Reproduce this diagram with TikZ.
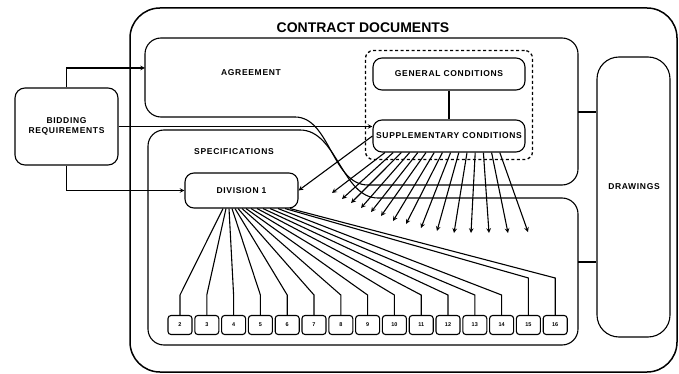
\documentclass[tikz,border=0pt]{standalone}
\usepackage{fontspec}
\setmainfont{Liberation Sans}
\newfontfamily\lblfont[LetterSpace=8]{Liberation Sans}
\usetikzlibrary{arrows,positioning,fit,calc}

\begin{document}
\begin{tikzpicture}[x = 1pt, y = -1pt,
    doc/.style = {draw, line width = 1.1pt, rounded corners = 9pt, inner sep = 0pt,
                  font = \lblfont\bfseries\fontsize{8.5}{10}\selectfont},
    divbox/.style = {draw, line width = 1.1pt, rounded corners = 3pt, inner sep = 0pt,
                     minimum width = 24pt, minimum height = 19pt,
                     font = \bfseries\fontsize{5.5}{6}\selectfont},
    lbl/.style = {font = \lblfont\bfseries\fontsize{8.5}{10}\selectfont},
    link/.style = {line width = 1.1pt},
    arr/.style = {->, >=stealth, line width = 1.1pt}]
    \useasboundingbox (0,0) rectangle (679,374);
    % outer frame
    \draw[line width = 1.5pt, rounded corners = 30pt] (130,8) rectangle (677,372);
    \node[font = \bfseries\fontsize{14}{16}\selectfont] (title) at (363,28) {CONTRACT DOCUMENTS};
    % agreement and specifications
    \draw[link, rounded corners = 16pt] (368,185) -- (578,185) -- (578,38) -- (145,38) -- (145,117) -- (295,117);
    \draw[link] (295,117) .. controls (330,117) and (332,185) .. (368,185);
    \draw[link, rounded corners = 16pt] (378,198) -- (578,198) -- (578,345) -- (148,345) -- (148,130) -- (300,130);
    \draw[link] (300,130) .. controls (337,130) and (342,198) .. (378,198);
    \node[lbl] (agrlbl) at (251,73) {AGREEMENT};
    \node[lbl] (speclbl) at (234,152) {SPECIFICATIONS};
    \coordinate (agrW) at (145,68);
    \coordinate (agrE) at (578,112);
    \coordinate (specE) at (578,262);
    % conditions
    \node[doc, minimum width = 152pt, minimum height = 32pt] (gen) at (449,74) {GENERAL CONDITIONS};
    \node[doc, minimum width = 152pt, minimum height = 32pt] (supp) at (449,136) {SUPPLEMENTARY CONDITIONS};
    \node[draw, line width = 1.3pt, dash pattern = on 3pt off 2.5pt, rounded corners = 8pt,
          fit = (gen)(supp), inner sep = 7pt] (cond) {};
    \draw[link] (gen) -- (supp);
    % other boxes
    \node[doc, rounded corners = 10pt, minimum width = 103pt, minimum height = 77pt, align = center]
        (bid) at (66.5,126.5) {BIDDING\\REQUIREMENTS};
    \node[doc, minimum width = 113pt, minimum height = 35pt] (div1) at (241.5,190.5) {DIVISION 1};
    \node[draw, link, rounded corners = 22pt, minimum width = 73pt, minimum height = 280pt] (drw) at (633.5,197) {};
    \node[lbl] (drwlbl) at (634,187) {DRAWINGS};
    \foreach \k [count = \i from 0] in {2,...,16}
        \node[divbox] (d\k) at ({180+26.8*\i},325) {\k};
    % connectors
    \draw[arr] (bid.north) |- (agrW);
    \draw[arr] (bid.east) -- (bid.east -| supp.west);
    \draw[arr] (bid.south) |- (div1.west);
    \draw[arr] (supp.west) -- (div1.east);
    \draw[link] (agrE) -- (agrE -| drw.west);
    \draw[link] (specE) -- (specE -| drw.west);
    \foreach \k/\sx/\ey in {2/223/295, 3/226/295, 4/229/295, 5/232/295, 6/235/295,
                            7/238/295, 8/242/295, 9/246/295, 10/251/295, 11/257/295,
                            12/263/295, 13/270/295, 14/278/295, 15/285/278, 16/290/278}
        \draw[link] (div1.south -| \sx,0) -- (d\k.north |- 0,\ey) -- (d\k.north);
    \foreach \ex/\ey [count = \i from 0] in {332/193, 342/199, 351/203, 361/208, 371/212,
                                             381/216, 393/221, 406/224, 421/228, 437/231,
                                             454/233, 471/233, 489/233, 508/233, 528/232} {
        \coordinate (f\i) at (\ex,\ey);
        \draw[arr] (supp.south -| {385+8.2*\i},0) -- (f\i);
    }
\end{tikzpicture}
\end{document}
